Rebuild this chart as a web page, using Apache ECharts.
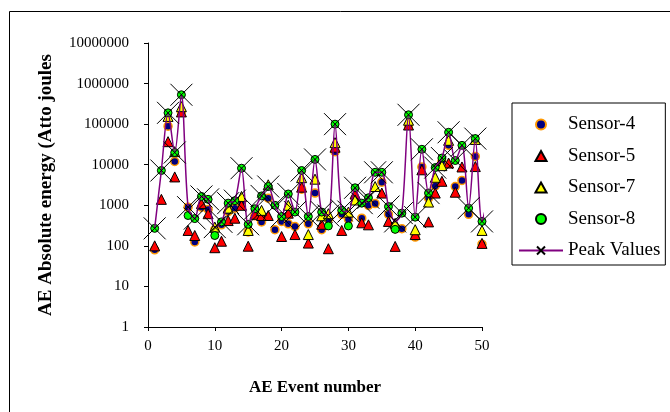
<!DOCTYPE html>
<html>
<head>
<meta charset="utf-8">
<script src="https://cdn.jsdelivr.net/npm/echarts@6/dist/echarts.min.js"></script>
<style>
html, body { margin: 0; padding: 0; background: #fff; }
#chart { width: 670px; height: 412px; }
</style>
</head>
<body>
<div id="chart"></div>
<script>
// AE event numbers
var events = [1, 2, 3, 4, 5, 6, 7, 8, 9, 10, 11, 12, 13, 14, 15, 16, 17, 18, 19, 20,
    21, 22, 23, 24, 25, 26, 27, 28, 29, 30, 31, 32, 33, 34, 35, 36, 37, 38, 39, 40,
    41, 42, 43, 44, 45, 46, 47, 48, 49, 50];
var peakEvents = events.concat([51, 52]);

// energies (atto joules); null = no marker seen
var sensor4 = [80, null, 89000, 12000, 200000, 900, 125, 900, 790, 250, 330, 700, 850, 1200, 220, 550, 390, 1500, 250, 400,
    350, 300, 2500, 350, 2000, 250, 450, 21000, 600, 450, 1500, 480, 1000, 1100, 3700, 600, 265, 265, 95000, 165,
    8800, 1500, 3000, 12000, 30000, 2900, 4100, 600, 16000, 110];
var sensor5 = [100, 1400, 37000, 5000, 200000, 240, 180, 1100, 620, 90, 130, 420, 480, 1000, 98, 600, 560, 560, null, 170,
    640, 190, 2800, 117, null, 340, 85, 27000, 240, null, 1900, 370, 330, null, 2000, 400, 97, null, 95000, 190,
    7500, 390, 2000, 3900, 11000, 2100, 8800, null, 9000, 115];
var sensor7 = [null, null, 155000, 21000, 270000, null, null, null, null, 290, null, 850, null, 1650, 240, null, 750, 3200, null, null,
    1000, null, 4800, 190, 4400, 550, 620, 35000, null, 680, 1350, null, null, 2900, null, null, 360, null, 125000, 250,
    null, 1200, 4900, 9500, 40000, null, null, null, 42000, 240];
var sensor8 = [270, 7200, 190000, 20000, 530000, 560, 470, 1650, 1400, 180, 390, 1130, 1300, 8200, 340, 820, 1700, 2900, 1000, 530,
    1900, 680, 7200, 530, 13500, 680, 310, 100000, 750, 310, 2700, 1130, 1530, 6500, 6500, 930, 255, 640, 170000, 510,
    24000, 2000, 8500, 14600, 63000, 12700, 30000, 850, 44000, 400];
var peakValues = [270, 7200, 190000, 20000, 530000, 900, 470, 1650, 1400, 290, 390, 1130, 1300, 8200, 340, 820, 1700, 2900, 1000, 530,
    1900, 680, 7200, 530, 13500, 680, 560, 100000, 750, 700, 2700, 1130, 1530, 6500, 6500, 930, 400, 640, 170000, 510,
    24000, 2000, 8500, 14600, 63000, 12700, 30000, 850, 44000, 400, 1300, 350];

var xTicks = [0, 10, 20, 30, 40, 50];

function pairs(xs, ys) {
    var out = [];
    for (var i = 0; i < xs.length; i++) {
        if (ys[i] != null) out.push([xs[i], ys[i]]);
    }
    return out;
}

// last two peak points have no marker in the picture
var peakData = pairs(peakEvents, peakValues).map(function (p) {
    return p[0] > 50 ? { value: p, symbol: 'none' } : p;
});

var serif = 'Liberation Serif';
var xMark = 'path://M0,0L10,10M10,0L0,10';
var triIcon = 'path://M5,0L10,9L0,9Z';

var myChart = echarts.init(document.getElementById('chart'));

var option = {
    animation: false,
    backgroundColor: '#fff',
    graphic: [{
        type: 'rect',
        shape: { x: 9.5, y: 11.5, width: 700, height: 450 },
        style: { fill: 'none', stroke: '#000', lineWidth: 1 },
        silent: true
    }],
    grid: {
        left: 148,
        top: 43,
        right: 188,
        bottom: 85
    },
    legend: {
        orient: 'vertical',
        left: 512,
        top: 103,
        padding: [12, 5, 5, 6],
        itemWidth: 44,
        itemHeight: 10,
        itemGap: 12.5,
        symbolKeepAspect: true,
        borderColor: '#000',
        borderWidth: 1,
        textStyle: { fontFamily: serif, fontSize: 19, color: '#000' },
        data: [
            { name: 'Sensor-4' },
            { name: 'Sensor-5', icon: triIcon },
            { name: 'Sensor-7', icon: triIcon },
            { name: 'Sensor-8' },
            { name: 'Peak Values' }
        ]
    },
    xAxis: {
        type: 'value',
        min: xTicks[0],
        max: xTicks[xTicks.length - 1],
        interval: 10,
        name: 'AE Event number',
        nameLocation: 'middle',
        nameGap: 52,
        nameTextStyle: { fontFamily: serif, fontSize: 17, fontWeight: 'bold', color: '#000' },
        axisLine: { lineStyle: { color: '#000', width: 1 } },
        axisTick: { length: 4, lineStyle: { color: '#000' } },
        axisLabel: { fontFamily: serif, fontSize: 15, color: '#000', margin: 12 },
        splitLine: { show: false }
    },
    yAxis: {
        type: 'log',
        logBase: 10,
        min: 1,
        max: 10000000,
        splitNumber: 7,
        name: 'AE Absolute energy (Atto joules',
        nameLocation: 'middle',
        nameGap: 92,
        nameTextStyle: { fontFamily: serif, fontSize: 19, fontWeight: 'bold', color: '#000' },
        axisLine: { show: true, lineStyle: { color: '#000', width: 1 } },
        axisTick: { show: true, length: 4, lineStyle: { color: '#000' } },
        axisLabel: {
            fontFamily: serif, fontSize: 15, color: '#000', margin: 19,
            formatter: function (v) { return String(Math.round(v)); }
        },
        splitLine: { show: false },
        minorTick: { show: false }
    },
    series: [
        {
            name: 'Sensor-4',
            type: 'scatter',
            symbol: 'circle',
            symbolSize: 8,
            itemStyle: { color: '#000080', borderColor: '#ff9900', borderWidth: 1.5, opacity: 1 },
            data: pairs(events, sensor4)
        },
        {
            name: 'Sensor-5',
            type: 'scatter',
            symbol: 'triangle',
            symbolSize: 10,
            itemStyle: { color: '#ff0000', borderColor: '#000', borderWidth: 1, opacity: 1 },
            data: pairs(events, sensor5)
        },
        {
            name: 'Sensor-7',
            type: 'scatter',
            symbol: 'triangle',
            symbolSize: 10,
            itemStyle: { color: '#ffff00', borderColor: '#000', borderWidth: 1, opacity: 1 },
            data: pairs(events, sensor7)
        },
        {
            name: 'Sensor-8',
            type: 'scatter',
            symbol: 'circle',
            symbolSize: 8,
            itemStyle: { color: '#00ff00', borderColor: '#000', borderWidth: 1, opacity: 1 },
            data: pairs(events, sensor8)
        },
        {
            name: 'Peak Values',
            type: 'line',
            smooth: 0.3,
            clip: false,
            symbol: xMark,
            symbolSize: 22,
            showAllSymbol: true,
            itemStyle: { color: 'rgba(0,0,0,0)', borderColor: '#000', borderWidth: 1 },
            lineStyle: { color: '#800080', width: 1.5 },
            data: peakData
        }
    ]
};

myChart.setOption(option);
</script>
</body>
</html>
